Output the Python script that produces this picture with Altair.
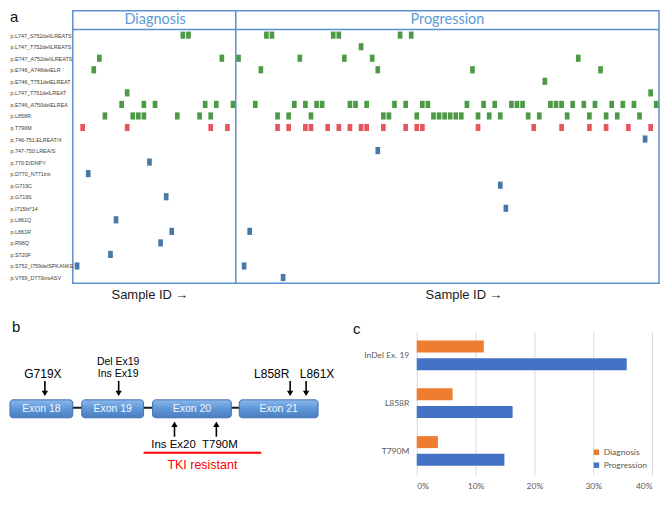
import json
import altair as alt
import pandas as pd

# ---------------- Panel a : mutation map ----------------
mutation_labels = [
    "p.L747_S752delILREATS", "p.L747_T752delILREATS", "p.E747_A752delILREATS",
    "p.E746_A748delELR", "p.E746_T751delELREAT", "p.L747_T751delLREAT",
    "p.E746_A750delELREA", "p.L858R", "p.T790M", "p.746-751:ELREAT/X",
    "p.747-750:LREA/S", "p.770:D/DNPY", "p.D770_N771ins", "p.G719C", "p.G719S",
    "p.I715fs*14", "p.L861Q", "p.L861R", "p.R98Q", "p.S720F",
    "p.S752_I759delSPKANKE", "p.V769_D770insASV",
]
mutation_class = ["sensitizing"] * 8 + ["resistant"] + ["other"] * 13
sample_hits = [
    [19, 20, 34, 35, 46, 47, 58, 60],
    [51],
    [4, 26, 29, 40, 48, 53, 90],
    [3, 33, 54, 71, 94],
    [84],
    [9, 103],
    [8, 12, 14, 23, 25, 28, 32, 39, 41, 43, 44, 49, 50, 52, 57, 59, 62, 63, 70,
     73, 75, 78, 79, 80, 85, 86, 87, 89, 91, 93, 96, 98, 100, 104],
    [5, 10, 11, 12, 18, 22, 24, 36, 38, 42, 55, 56, 61, 64, 65, 66, 67, 68, 69,
     72, 74, 76, 81, 83, 88, 92, 95, 97, 101],
    [1, 9, 24, 27, 36, 38, 41, 42, 45, 47, 49, 51, 52, 55, 59, 61, 62, 72, 82,
     87, 92, 95, 99, 103],
    [102], [54], [13], [2], [76], [16], [77], [7], [17, 31], [15], [6], [0, 30], [37],
]
n_diagnosis = 29
n_progression = 76
group_names = ["Diagnosis", "Progression"]
sample_axis_label = "Sample ID \u2192"

# ---------------- Panel b : exon diagram ----------------
exon_names = ["Exon 18", "Exon 19", "Exon 20", "Exon 21"]
exon_start = [5, 77, 148, 235]
exon_end = [68, 139, 227, 314]
large_labels = ["G719X", "L858R", "L861X"]
large_label_x = [38, 267.5, 313]
small_labels = ["Del Ex19", "Ins Ex19"]
small_label_x = [113.5, 113.5]
small_label_y = [369.5, 381]
down_arrow_x = [40, 114, 286, 302]
below_labels = ["Ins Ex20", "T790M"]
below_label_x = [169, 215.5]
up_arrow_x = [170, 212]
resistant_span = [139, 257]
resistant_label = "TKI resistant"
panel_letters = ["b", "c"]
panel_letter_x = [7, 349]

# ---------------- Panel c : frequency bars ----------------
c_categories = ["InDel Ex. 19", "L858R", "T790M"]
c_series = ["Diagnosis", "Progression"]
diagnosis_freq = [0.114, 0.061, 0.036]
progression_freq = [0.357, 0.163, 0.149]
c_ticks = [0, 0.1, 0.2, 0.3, 0.4]

# ======================= build panel a =======================
W_A, H_A = 588, 273.4
n_samples = n_diagnosis + n_progression
x_dom = [-0.766, n_samples - 0.5]
header_units = 1.616
y_dom = [-0.5 - header_units, len(mutation_labels) - 0.5]

cells = pd.DataFrame(
    [
        {"row": i, "cls": mutation_class[i], "sample": s}
        for i, hits in enumerate(sample_hits)
        for s in hits
    ]
)
xA = alt.Scale(domain=x_dom, nice=False, zero=False)
yA = alt.Scale(domain=y_dom, reverse=True, nice=False, zero=False)
yaxisA = alt.Axis(
    values=list(range(len(mutation_labels))),
    labelExpr=json.dumps(mutation_labels) + "[datum.value]",
    ticks=False, domain=False, grid=False, title=None,
    labelAlign="left", labelPadding=63, labelFontSize=5.4,
    labelFont="Liberation Sans", labelColor="#404040", labelOverlap=False,
)

cell_layer = (
    alt.Chart(cells)
    .transform_calculate(
        x1="datum.sample - 0.42", x2="datum.sample + 0.42",
        y1="datum.row - 0.31", y2="datum.row + 0.31",
    )
    .mark_rect()
    .encode(
        x=alt.X("x1:Q", scale=xA, axis=None),
        x2="x2:Q",
        y=alt.Y("y1:Q", scale=yA, axis=yaxisA),
        y2="y2:Q",
        color=alt.Color(
            "cls:N",
            scale=alt.Scale(domain=["sensitizing", "resistant", "other"],
                            range=["#4C9A45", "#E5575C", "#4878A8"]),
            legend=None,
        ),
    )
)

header_df = pd.DataFrame({
    "group": group_names,
    "center": [(n_diagnosis - 1) / 2, n_diagnosis + (n_progression - 1) / 2],
    "y": [-0.5 - header_units / 2] * 2,
})
header_text = alt.Chart(header_df).mark_text(
    font="Lato", fontSize=14.5, color="#5B9BD5", baseline="middle"
).encode(
    x=alt.X("center:Q", scale=xA, axis=None),
    y=alt.Y("y:Q", scale=yA, axis=yaxisA),
    text="group:N",
)

hline_df = pd.DataFrame({"x0": [x_dom[0]], "x1": [x_dom[1]], "y": [-0.5]})
hline = alt.Chart(hline_df).mark_rule(color="#5B8FD0", strokeWidth=1.5).encode(
    x=alt.X("x0:Q", scale=xA, axis=None), x2="x1:Q",
    y=alt.Y("y:Q", scale=yA, axis=yaxisA),
)
vline_df = pd.DataFrame({"x": [n_diagnosis - 0.5], "y0": [y_dom[0]], "y1": [y_dom[1]]})
vline = alt.Chart(vline_df).mark_rule(color="#5B8FD0", strokeWidth=1.5).encode(
    x=alt.X("x:Q", scale=xA, axis=None),
    y=alt.Y("y0:Q", scale=yA, axis=yaxisA), y2="y1:Q",
)

sample_df = pd.DataFrame({
    "label": [sample_axis_label] * 2,
    "x": [13.1, 69.5],
    "y": [y_dom[1] + 0.98] * 2,
})
sample_text = alt.Chart(sample_df).mark_text(
    font="Liberation Sans", fontSize=13, color="#1a1a1a", baseline="middle"
).encode(
    x=alt.X("x:Q", scale=xA, axis=None),
    y=alt.Y("y:Q", scale=yA, axis=yaxisA),
    text="label:N",
)

letter_a = alt.Chart(pd.DataFrame({"t": ["a"]})).mark_text(
    font="Liberation Sans", fontSize=15, color="#111", align="left", baseline="top"
).encode(x=alt.value(-63), y=alt.value(-1), text="t:N")

panel_a = alt.layer(cell_layer, hline, vline, header_text, sample_text, letter_a).properties(
    width=W_A, height=H_A,
    view=alt.ViewBackground(stroke="#5B8FD0", strokeWidth=1.5),
)

# ======================= build panel b =======================
W_B, H_B = 300, 144
B_GAP = 45
xB = alt.Scale(domain=[68, 68 + W_B], nice=False, zero=False)
yB = alt.Scale(domain=[338.3, 338.3 + H_B], reverse=True, nice=False, zero=False)

def bx(f):
    return alt.X(f, scale=xB, axis=None)

def by(f):
    return alt.Y(f, scale=yB, axis=None)

exon_df = pd.DataFrame({"name": exon_names, "x0": exon_start, "x1": exon_end})
exon_df["mid"] = (exon_df["x0"] + exon_df["x1"]) / 2
exon_df["y0"] = 407
exon_df["y1"] = 425
exon_df["ym"] = 416

connector = alt.Chart(pd.DataFrame({"x0": [exon_start[0]], "x1": [exon_end[-1]], "y": [415]})).mark_rule(
    color="#1a1a1a", strokeWidth=2
).encode(x=bx("x0:Q"), x2="x1:Q", y=by("y:Q"))

exon_fill = alt.LinearGradient(
    gradient="linear", x1=0, x2=0, y1=0, y2=1,
    stops=[alt.GradientStop(offset=0, color="#8AB8EA"),
           alt.GradientStop(offset=0.5, color="#5E97D8"),
           alt.GradientStop(offset=1, color="#4A7DC0")],
)
exon_rect = alt.Chart(exon_df).mark_rect(
    cornerRadius=3, fill=exon_fill, stroke="#3F70B0", strokeWidth=1
).encode(x=bx("x0:Q"), x2="x1:Q", y=by("y0:Q"), y2="y1:Q")
exon_text = alt.Chart(exon_df).mark_text(
    font="Liberation Sans", fontSize=10.5, color="#F2F6FB", baseline="middle"
).encode(x=bx("mid:Q"), y=by("ym:Q"), text="name:N")

down_df = pd.DataFrame({"x": down_arrow_x, "y0": 388, "y1": 399, "tip": 400.5})
down_shaft = alt.Chart(down_df).mark_rule(color="black", strokeWidth=1.6).encode(
    x=bx("x:Q"), y=by("y0:Q"), y2="y1:Q")
down_head = alt.Chart(down_df).mark_point(
    shape="triangle-down", filled=True, size=40, color="black", opacity=1
).encode(x=bx("x:Q"), y=by("tip:Q"))

up_df = pd.DataFrame({"x": up_arrow_x, "y0": 444, "y1": 433, "tip": 431.5})
up_shaft = alt.Chart(up_df).mark_rule(color="black", strokeWidth=1.6).encode(
    x=bx("x:Q"), y=by("y0:Q"), y2="y1:Q")
up_head = alt.Chart(up_df).mark_point(
    shape="triangle-up", filled=True, size=40, color="black", opacity=1
).encode(x=bx("x:Q"), y=by("tip:Q"))

large_df = pd.DataFrame({"t": large_labels, "x": large_label_x, "y": 381})
large_text = alt.Chart(large_df).mark_text(
    font="Liberation Sans", fontSize=12, color="black", baseline="middle"
).encode(x=bx("x:Q"), y=by("y:Q"), text="t:N")
small_df = pd.DataFrame({"t": small_labels, "x": small_label_x, "y": small_label_y})
small_text = alt.Chart(small_df).mark_text(
    font="Liberation Sans", fontSize=10.5, color="black", baseline="middle"
).encode(x=bx("x:Q"), y=by("y:Q"), text="t:N")
below_df = pd.DataFrame({"t": below_labels, "x": below_label_x, "y": 452})
below_text = alt.Chart(below_df).mark_text(
    font="Liberation Sans", fontSize=11.5, color="black", baseline="middle"
).encode(x=bx("x:Q"), y=by("y:Q"), text="t:N")

red_df = pd.DataFrame({"x0": [resistant_span[0]], "x1": [resistant_span[1]], "y": [460],
                       "t": [resistant_label], "xm": [sum(resistant_span) / 2], "yt": [472]})
red_line = alt.Chart(red_df).mark_rule(color="#FF0000", strokeWidth=2).encode(
    x=bx("x0:Q"), x2="x1:Q", y=by("y:Q"))
red_text = alt.Chart(red_df).mark_text(
    font="Liberation Sans", fontSize=12.5, color="#FF0000", baseline="middle"
).encode(x=bx("xm:Q"), y=by("yt:Q"), text="t:N")

letters_df = pd.DataFrame({"t": panel_letters, "x": panel_letter_x, "y": [334, 336]})
letters = alt.Chart(letters_df).mark_text(
    font="Liberation Sans", fontSize=15, color="#111", align="left", baseline="middle"
).encode(x=bx("x:Q"), y=by("y:Q"), text="t:N")

panel_b = alt.layer(
    connector, exon_rect, exon_text, down_shaft, down_head, up_shaft, up_head,
    large_text, small_text, below_text, red_line, red_text, letters,
).properties(width=W_B, height=H_B)

# ======================= build panel c =======================
W_C, H_C = 236, 144
c_df = pd.DataFrame({
    "category": c_categories * 2,
    "series": [c_series[0]] * 3 + [c_series[1]] * 3,
    "value": diagnosis_freq + progression_freq,
})
panel_c = alt.Chart(c_df).mark_bar().encode(
    x=alt.X("value:Q", scale=alt.Scale(domain=[0, 0.4], nice=False),
            axis=alt.Axis(format="%", values=c_ticks, grid=True, gridColor="#D9D9D9",
                          ticks=False, domain=False, labelFont="Lato", labelFontSize=8.5,
                          labelColor="#595959", labelPadding=7, title=None)),
    y=alt.Y("category:N", sort=c_categories,
            scale=alt.Scale(paddingInner=0, paddingOuter=0),
            axis=alt.Axis(ticks=False, domain=False, labelFont="Lato", labelFontSize=8.5,
                          labelColor="#595959", labelPadding=8, title=None)),
    yOffset=alt.YOffset("series:N", sort=c_series,
                        scale=alt.Scale(paddingInner=0.322, paddingOuter=0.511)),
    color=alt.Color("series:N", sort=c_series,
                    scale=alt.Scale(domain=c_series, range=["#ED7D31", "#4472C4"]),
                    legend=alt.Legend(orient="none", legendX=W_B + B_GAP + 176, legendY=117,
                                      title=None, symbolType="square", symbolSize=30,
                                      labelFont="Lato", labelFontSize=8.5,
                                      labelColor="#595959", rowPadding=4, labelOffset=3)),
).properties(width=W_C, height=H_C)

bottom = alt.hconcat(panel_b, panel_c, spacing=B_GAP, bounds="flush")
chart = (
    alt.vconcat(panel_a, bottom, spacing=47.6, bounds="flush")
    .resolve_scale(color="independent")
    .properties(padding={"left": 0, "top": 0, "right": 0, "bottom": 0})
    .configure_view(stroke="transparent")
)

chart.save("out.html", embed_options={"renderer": "svg", "actions": False})
